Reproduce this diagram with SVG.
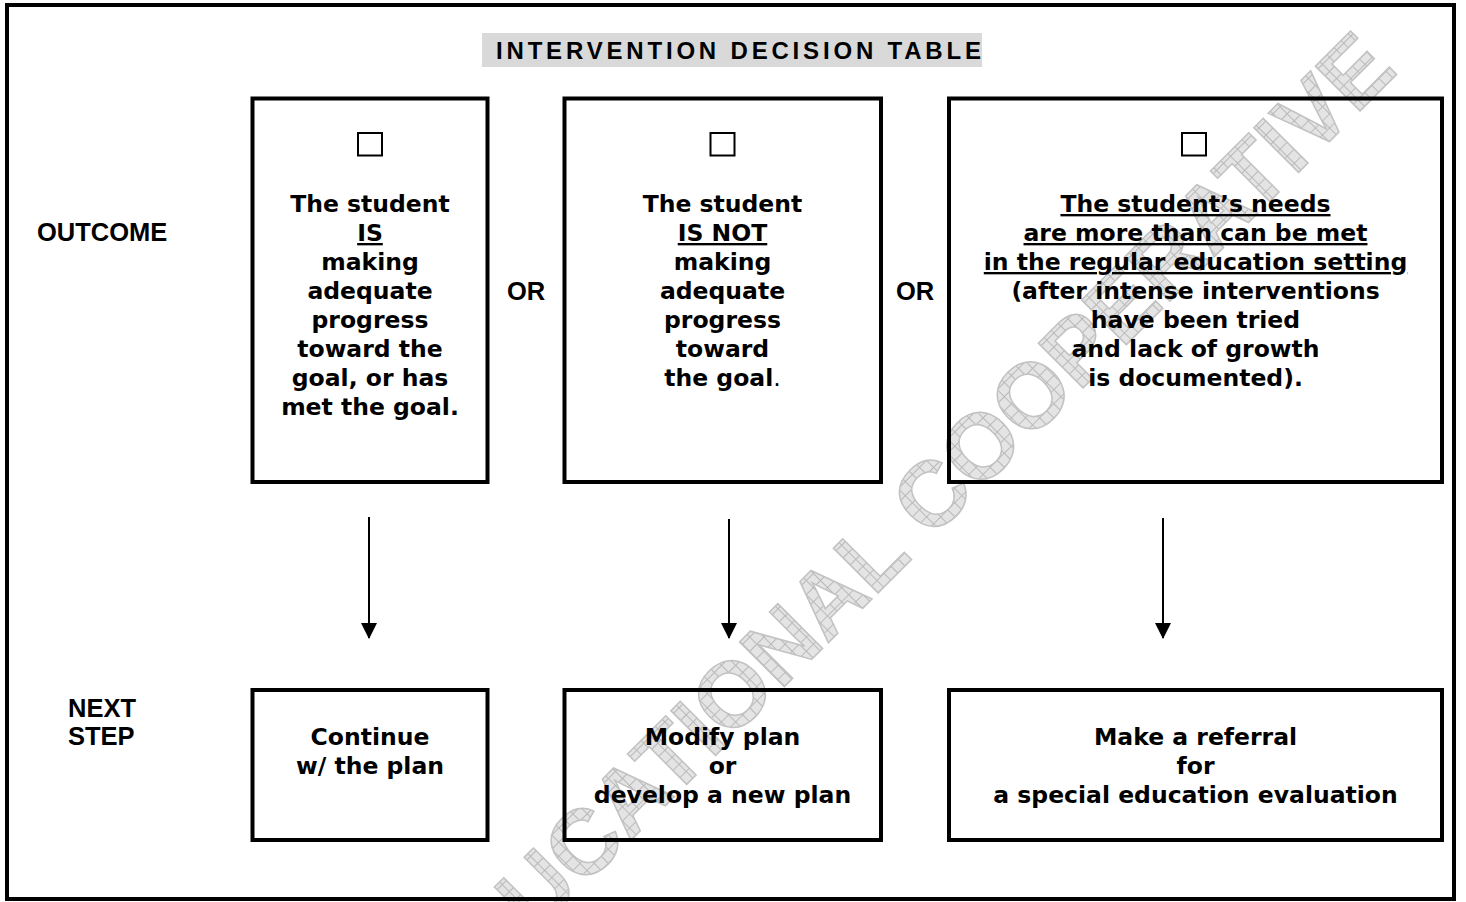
<svg xmlns="http://www.w3.org/2000/svg" width="1466" height="902" viewBox="0 0 1466 902">
<style>
.box{fill:none;stroke:#000;stroke-width:4}
.chk{fill:none;stroke:#000;stroke-width:2}
.t{font-family:"DejaVu Sans",Verdana,sans-serif;font-weight:bold;font-size:23.5px;text-anchor:middle;fill:#000}
.u{text-decoration:underline}
.lbl{font-family:"Liberation Sans",Arial,sans-serif;font-weight:bold;font-size:25.5px;fill:#000}
.title{font-family:"Liberation Sans",Arial,sans-serif;font-weight:bold;font-size:24px;fill:#000}
.wm{font-family:"Liberation Sans",Arial,sans-serif;font-weight:bold;font-size:92px;fill:url(#hatch);stroke:#c2c2c2;stroke-width:1.5}
.conn{stroke:#000;stroke-width:2;fill:none}
</style>
<defs>
<pattern id="hatch" patternUnits="userSpaceOnUse" width="10" height="10">
<rect width="10" height="10" fill="#e4e4e4"/>
<path d="M0 0.5H10M0.5 0V10" stroke="#b9b9b9" stroke-width="1"/>
</pattern>
<marker id="arr" viewBox="0 0 16 16" refX="15" refY="8" markerWidth="16" markerHeight="16" markerUnits="userSpaceOnUse" orient="auto">
<path d="M0 0L16 8L0 16Z" fill="#000"/>
</marker>
</defs>
<rect width="1466" height="902" fill="#fff"/>
<g id="watermark">
<text class="wm" transform="translate(445,1026) rotate(-45)">EDUCATIONAL COOPERATIVE</text>
</g>
<rect id="frame" x="7" y="5" width="1447" height="894" class="box"/>
<g id="title">
<rect x="482" y="33" width="500" height="34" fill="#d9d9d9"/>
<text class="title" x="496" y="58.5" textLength="485" lengthAdjust="spacing">INTERVENTION DECISION TABLE</text>
</g>
<g id="label-outcome"><text class="lbl" x="37" y="241">OUTCOME</text></g>
<g id="label-next"><text class="lbl" x="68" y="717">NEXT</text><text class="lbl" x="68" y="745">STEP</text></g>
<g id="or-1"><text class="lbl" x="526" y="300" text-anchor="middle">OR</text></g>
<g id="or-2"><text class="lbl" x="915" y="300" text-anchor="middle">OR</text></g>
<g id="outcome-1">
<rect class="box" x="252.5" y="98.5" width="235" height="383.5"/>
<rect class="chk" x="358" y="133" width="24" height="22.5"/>
<text class="t" x="370" y="212">The student</text>
<text class="t u" x="370" y="241">IS</text>
<text class="t" x="370" y="270">making</text>
<text class="t" x="370" y="299">adequate</text>
<text class="t" x="370" y="328">progress</text>
<text class="t" x="370" y="357">toward the</text>
<text class="t" x="370" y="386">goal, or has</text>
<text class="t" x="370" y="415">met the goal.</text>
</g>
<g id="outcome-2">
<rect class="box" x="564.5" y="98.5" width="316.5" height="383.5"/>
<rect class="chk" x="710.5" y="133" width="24" height="22.5"/>
<text class="t" x="722.5" y="212">The student</text>
<text class="t u" x="722.5" y="241">IS NOT</text>
<text class="t" x="722.5" y="270">making</text>
<text class="t" x="722.5" y="299">adequate</text>
<text class="t" x="722.5" y="328">progress</text>
<text class="t" x="722.5" y="357">toward</text>
<text class="t" x="722.5" y="386">the goal<tspan font-weight="normal">.</tspan></text>
</g>
<g id="outcome-3">
<rect class="box" x="949" y="98.5" width="493" height="383.5"/>
<rect class="chk" x="1182" y="133" width="24" height="22.5"/>
<text class="t u" x="1195.5" y="212">The student’s needs</text>
<text class="t u" x="1195.5" y="241">are more than can be met</text>
<text class="t u" x="1195.5" y="270">in the regular education setting</text>
<text class="t" x="1195.5" y="299">(after intense interventions</text>
<text class="t" x="1195.5" y="328">have been tried</text>
<text class="t" x="1195.5" y="357">and lack of growth</text>
<text class="t" x="1195.5" y="386">is documented).</text>
</g>
<g id="connectors">
<line class="conn" x1="369" y1="517" x2="369" y2="638" marker-end="url(#arr)"/>
<line class="conn" x1="729" y1="519" x2="729" y2="638" marker-end="url(#arr)"/>
<line class="conn" x1="1163" y1="518" x2="1163" y2="638" marker-end="url(#arr)"/>
</g>
<g id="step-1">
<rect class="box" x="252.5" y="690" width="235" height="150"/>
<text class="t" x="370" y="745">Continue</text>
<text class="t" x="370" y="774">w/ the plan</text>
</g>
<g id="step-2">
<rect class="box" x="564.5" y="690" width="316.5" height="150"/>
<text class="t" x="722.5" y="745">Modify plan</text>
<text class="t" x="722.5" y="774">or</text>
<text class="t" x="722.5" y="803">develop a new plan</text>
</g>
<g id="step-3">
<rect class="box" x="949" y="690" width="493" height="150"/>
<text class="t" x="1195.5" y="745">Make a referral</text>
<text class="t" x="1195.5" y="774">for</text>
<text class="t" x="1195.5" y="803">a special education evaluation</text>
</g>
</svg>
